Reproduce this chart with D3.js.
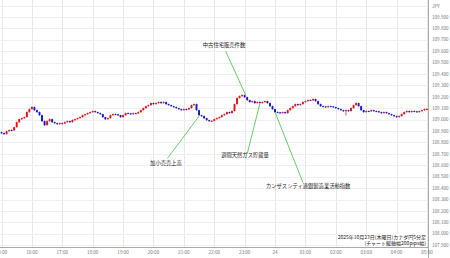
<!DOCTYPE html>
<html>
<head>
<meta charset="utf-8">
<script src="https://cdn.jsdelivr.net/npm/d3@7"></script>
<style>
  body { margin: 0; background: #fff; }
  text { font-family: "Noto Sans CJK JP", "Noto Sans", sans-serif; }
</style>
</head>
<body>
<script>
var W = 450, H = 258;
var plotRight = 428, plotBottom = 247;

// CAD/JPY 5-minute candles, 15:00 -> 05:00
var opens = [108.890,108.882,108.873,108.899,108.908,108.906,108.934,108.978,109.004,109.013,
109.022,109.066,109.092,109.110,109.083,109.066,109.039,108.987,108.952,108.987,
109.004,108.978,108.969,108.961,108.969,108.966,108.978,108.987,108.978,108.996,
109.004,109.013,109.022,109.039,109.048,109.057,109.066,109.075,109.066,109.057,
109.048,109.022,109.004,109.013,109.039,109.048,109.046,109.039,109.022,109.039,
109.057,109.055,109.048,109.057,109.055,109.066,109.083,109.101,109.118,109.127,
109.145,109.136,109.145,109.154,109.145,109.154,109.136,109.127,109.118,109.110,
109.101,109.092,109.083,109.092,109.090,109.101,109.127,109.136,109.083,109.039,
109.031,109.013,108.996,108.987,108.989,109.004,109.013,109.022,109.039,109.048,
109.066,109.057,109.075,109.136,109.189,109.206,109.215,109.197,109.171,109.154,
109.162,109.145,109.154,109.145,109.154,109.162,109.145,109.118,109.092,109.066,
109.064,109.057,109.066,109.057,109.083,109.101,109.118,109.136,109.127,109.136,
109.154,109.162,109.171,109.169,109.180,109.162,109.136,109.118,109.116,109.110,
109.118,109.116,109.110,109.101,109.092,109.083,109.075,109.083,109.075,109.101,
109.127,109.145,109.118,109.083,109.066,109.075,109.073,109.083,109.075,109.073,
109.066,109.057,109.066,109.057,109.048,109.039,109.031,109.022,109.031,109.048,
109.066,109.075,109.066,109.075,109.073,109.066,109.075,109.083,109.092];

var highs = [108.895,108.888,108.903,108.912,108.914,108.938,108.983,109.010,109.018,109.027,
109.071,109.098,109.118,109.114,109.088,109.070,109.043,108.992,108.993,109.010,
109.008,108.983,108.974,108.975,108.974,108.983,108.992,108.991,109.001,109.009,
109.018,109.027,109.044,109.053,109.062,109.071,109.080,109.079,109.070,109.062,
109.052,109.026,109.018,109.044,109.053,109.053,109.050,109.043,109.044,109.062,
109.062,109.059,109.062,109.061,109.071,109.088,109.106,109.123,109.132,109.150,
109.149,109.150,109.159,109.158,109.160,109.158,109.140,109.131,109.122,109.114,
109.105,109.096,109.097,109.097,109.106,109.132,109.141,109.140,109.087,109.043,
109.035,109.017,109.000,108.995,109.009,109.018,109.027,109.044,109.053,109.071,
109.070,109.080,109.141,109.194,109.212,109.222,109.219,109.201,109.175,109.167,
109.166,109.159,109.158,109.159,109.167,109.166,109.149,109.122,109.096,109.071,
109.068,109.071,109.070,109.088,109.106,109.123,109.141,109.140,109.141,109.159,
109.167,109.176,109.176,109.186,109.184,109.166,109.140,109.123,109.120,109.123,
109.122,109.120,109.114,109.105,109.096,109.087,109.088,109.087,109.106,109.132,
109.150,109.149,109.122,109.087,109.080,109.080,109.088,109.087,109.080,109.077,
109.070,109.071,109.070,109.061,109.052,109.043,109.035,109.036,109.053,109.071,
109.080,109.079,109.080,109.080,109.077,109.080,109.088,109.097,109.099];

var lows = [108.876,108.868,108.870,108.894,108.901,108.902,108.930,108.972,108.998,109.006,
109.018,109.060,109.088,109.078,109.060,109.034,108.980,108.945,108.948,108.982,
108.972,108.963,108.955,108.956,108.961,108.962,108.973,108.973,108.974,108.991,
109.000,109.008,109.018,109.034,109.043,109.052,109.061,109.061,109.052,109.043,
109.017,108.998,108.999,109.009,109.034,109.041,109.034,109.017,109.018,109.035,
109.050,109.043,109.044,109.050,109.051,109.062,109.079,109.097,109.113,109.123,
109.131,109.132,109.140,109.140,109.141,109.131,109.122,109.113,109.105,109.096,
109.087,109.078,109.079,109.085,109.086,109.097,109.122,109.078,109.034,109.025,
109.007,108.990,108.981,108.982,108.985,109.000,109.008,109.018,109.034,109.044,
109.052,109.053,109.071,109.132,109.185,109.200,109.192,109.166,109.149,109.150,
109.140,109.141,109.140,109.141,109.150,109.140,109.113,109.087,109.061,109.059,
109.052,109.053,109.052,109.053,109.079,109.097,109.114,109.122,109.123,109.132,
109.150,109.158,109.164,109.165,109.157,109.131,109.113,109.111,109.105,109.106,
109.111,109.105,109.096,109.087,109.078,109.069,109.035,109.070,109.071,109.097,
109.123,109.113,109.078,109.061,109.062,109.068,109.069,109.070,109.068,109.061,
109.052,109.053,109.052,109.043,109.034,109.026,109.017,109.018,109.027,109.044,
109.062,109.061,109.062,109.068,109.061,109.062,109.071,109.079,109.087];

var closes = [108.882,108.873,108.899,108.908,108.906,108.934,108.978,109.004,109.013,109.022,
109.066,109.092,109.110,109.083,109.066,109.039,108.987,108.952,108.987,109.004,
108.978,108.969,108.961,108.969,108.966,108.978,108.987,108.978,108.996,109.004,
109.013,109.022,109.039,109.048,109.057,109.066,109.075,109.066,109.057,109.048,
109.022,109.004,109.013,109.039,109.048,109.046,109.039,109.022,109.039,109.057,
109.055,109.048,109.057,109.055,109.066,109.083,109.101,109.118,109.127,109.145,
109.136,109.145,109.154,109.145,109.154,109.136,109.127,109.118,109.110,109.101,
109.092,109.083,109.092,109.090,109.101,109.127,109.136,109.083,109.039,109.031,
109.013,108.996,108.987,108.989,109.004,109.013,109.022,109.039,109.048,109.066,
109.057,109.075,109.136,109.189,109.206,109.215,109.197,109.171,109.154,109.162,
109.145,109.154,109.145,109.154,109.162,109.145,109.118,109.092,109.066,109.064,
109.057,109.066,109.057,109.083,109.101,109.118,109.136,109.127,109.136,109.154,
109.162,109.171,109.169,109.180,109.162,109.136,109.118,109.116,109.110,109.118,
109.116,109.110,109.101,109.092,109.083,109.075,109.083,109.075,109.101,109.127,
109.145,109.118,109.083,109.066,109.075,109.073,109.083,109.075,109.073,109.066,
109.057,109.066,109.057,109.048,109.039,109.031,109.022,109.031,109.048,109.066,
109.075,109.066,109.075,109.073,109.066,109.075,109.083,109.092,109.094];

var hourLabels = ["15:00","16:00","17:00","18:00","19:00","20:00","21:00","22:00",
                  "23:00","24","01:00","02:00","03:00","04:00","05:00"];
var priceTicks = [107.9,108.0,108.1,108.2,108.3,108.4,108.5,108.6,108.7,108.8,108.9,
                  109.0,109.1,109.2,109.3,109.4,109.5,109.6,109.7,109.8,109.9];

// economic events: label position, line from / to as [candle index, price]
var events = [
  { name: "中古住宅販売件数", lx: 224, ly: 47, from: [88.5, 109.600], to: [96.5, 109.210] },
  { name: "加小売売上高", lx: 166, ly: 165, from: [65.5, 108.660], to: [78, 109.030] },
  { name: "週間天然ガス貯蔵量", lx: 245, ly: 157, from: [97, 108.700], to: [102, 109.140] },
  { name: "カンザスシティ連銀製造業活動指数", lx: 266, ly: 188, from: [108, 109.065], to: [119, 108.450], anchor: "start" }
];

var start = new Date(2025, 9, 23, 15, 0);
var times = opens.map(function(d, i) { return new Date(start.getTime() + i * 5 * 60000); });

var x = d3.scaleTime()
    .domain([start, new Date(2025, 9, 24, 5, 0)])
    .range([1.5, 427]);

var y = d3.scaleLinear()
    .domain([107.9, 110.0])
    .range([245.2, 5.5]);

var svg = d3.select("body").append("svg")
    .attr("width", W)
    .attr("height", H);

svg.append("rect").attr("width", W).attr("height", H).attr("fill", "#fff");

var hourTicks = hourLabels.map(function(d, i) { return new Date(start.getTime() + i * 3600000); });

// grid
svg.append("g").selectAll("line.v")
    .data(hourTicks)
    .enter().append("line")
    .attr("x1", function(d) { return Math.round(x(d)) + 0.5; })
    .attr("x2", function(d) { return Math.round(x(d)) + 0.5; })
    .attr("y1", 0).attr("y2", plotBottom)
    .attr("stroke", "#e8e8e8");

svg.append("g").selectAll("line.h")
    .data(priceTicks.concat([110.0]))
    .enter().append("line")
    .attr("x1", 0).attr("x2", plotRight)
    .attr("y1", function(d) { return Math.round(y(d)) + 0.5; })
    .attr("y2", function(d) { return Math.round(y(d)) + 0.5; })
    .attr("stroke", "#f0f0f0");

// candles
var candles = svg.append("g");
var cw = 1.9;
times.forEach(function(t, i) {
    var up = closes[i] >= opens[i];
    var col = up ? "#e8101a" : "#1515d8";
    var cx = x(t);
    candles.append("line")
        .attr("x1", cx).attr("x2", cx)
        .attr("y1", y(highs[i])).attr("y2", y(lows[i]))
        .attr("stroke", col).attr("stroke-width", 0.7);
    var top = y(Math.max(opens[i], closes[i]));
    var bot = y(Math.min(opens[i], closes[i]));
    candles.append("rect")
        .attr("x", cx - cw / 2)
        .attr("y", top)
        .attr("width", cw)
        .attr("height", Math.max(bot - top, 1))
        .attr("fill", col);
});

// event lines + labels
var ev = svg.append("g");
events.forEach(function(e) {
    ev.append("line")
        .attr("x1", x(times[0].getTime() + e.from[0] * 300000))
        .attr("y1", y(e.from[1]))
        .attr("x2", x(times[0].getTime() + e.to[0] * 300000))
        .attr("y2", y(e.to[1]))
        .attr("stroke", "#5fd35f")
        .attr("stroke-width", 1);
    ev.append("text")
        .attr("x", e.lx).attr("y", e.ly)
        .attr("text-anchor", e.anchor || "middle")
        .attr("font-size", 5.3)
        .attr("fill", "#222")
        .text(e.name);
});

// axes lines
svg.append("line")
    .attr("x1", plotRight + 0.5).attr("x2", plotRight + 0.5)
    .attr("y1", 0).attr("y2", H)
    .attr("stroke", "#aaa");
svg.append("line")
    .attr("x1", 0).attr("x2", plotRight)
    .attr("y1", plotBottom + 0.5).attr("y2", plotBottom + 0.5)
    .attr("stroke", "#aaa");

// right price labels
svg.append("g").selectAll("text")
    .data(priceTicks)
    .enter().append("text")
    .attr("x", 432)
    .attr("y", function(d) { return y(d) + 1.7; })
    .attr("font-size", 4.6)
    .attr("fill", "#777")
    .text(function(d) { return d3.format(".3f")(d); });

svg.append("text")
    .attr("x", 432).attr("y", 7.5)
    .attr("font-size", 4.6)
    .attr("fill", "#777")
    .text("JPY");

// bottom time labels
svg.append("g").selectAll("text")
    .data(hourTicks)
    .enter().append("text")
    .attr("x", function(d) { return x(d); })
    .attr("y", 253.5)
    .attr("text-anchor", "middle")
    .attr("font-size", 4.6)
    .attr("fill", "#777")
    .text(function(d, i) { return hourLabels[i]; });

// caption box
var cap = svg.append("g");
cap.append("rect")
    .attr("x", 343).attr("y", 233.5).attr("width", 84).attr("height", 12)
    .attr("fill", "#fff");
cap.append("text")
    .attr("x", 426).attr("y", 239)
    .attr("text-anchor", "end")
    .attr("font-size", 5)
    .attr("fill", "#222")
    .text("2025年10月23日(木曜日)カナダ円5分足");
cap.append("text")
    .attr("x", 426).attr("y", 245)
    .attr("text-anchor", "end")
    .attr("font-size", 5)
    .attr("fill", "#222")
    .text("(チャート縦軸幅200pips幅)");
</script>
</body>
</html>
